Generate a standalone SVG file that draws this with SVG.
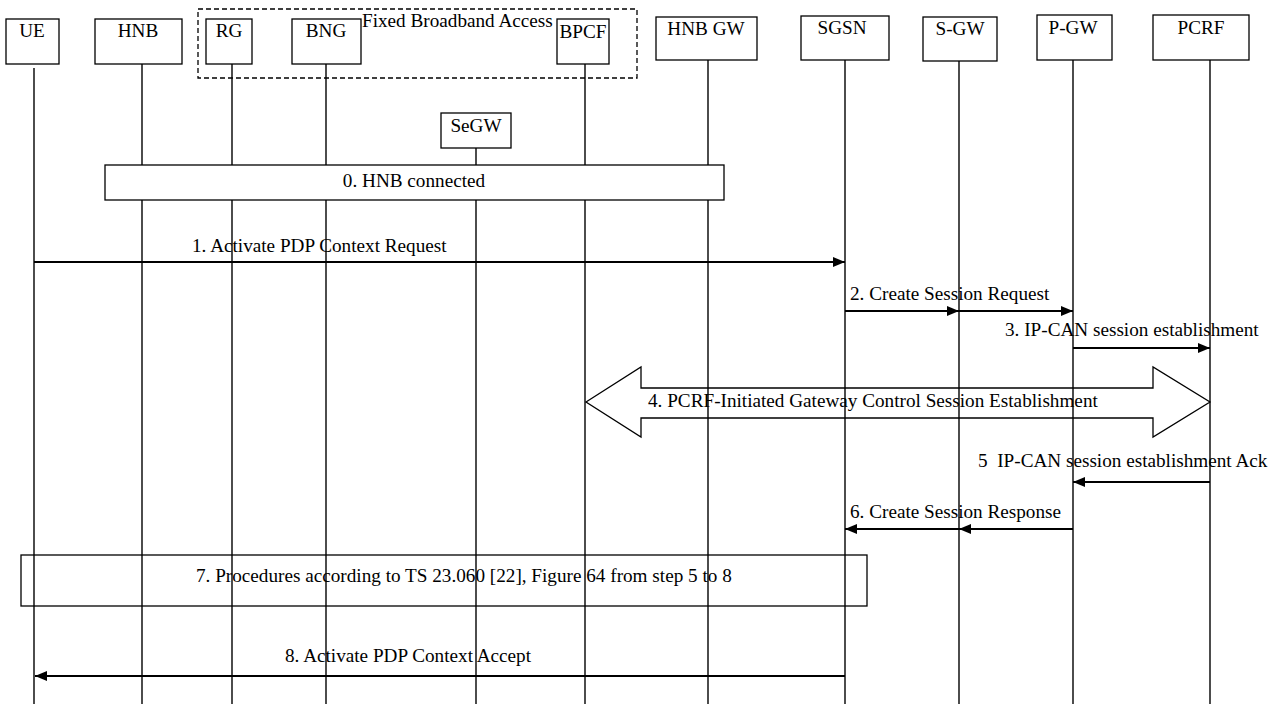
<svg xmlns="http://www.w3.org/2000/svg" width="1278" height="704" viewBox="0 0 1278 704">
<style>
text{font-family:"Liberation Serif","Times New Roman",serif;font-size:19.2px;fill:#000}
.c{text-anchor:middle}
.box{fill:#fff;stroke:#000;stroke-width:1.3}
.frame{fill:none;stroke:#000;stroke-width:1.3}
.life{stroke:#000;stroke-width:1.4;fill:none}
.msg{stroke:#000;stroke-width:2;fill:none;marker-end:url(#ah)}
</style>
<defs>
<marker id="ah" viewBox="0 0 12 10" refX="12" refY="5" markerWidth="12" markerHeight="10" markerUnits="userSpaceOnUse" orient="auto">
<path d="M0,0 L12,5 L0,10 z" fill="#000"/>
</marker>
</defs>
<rect width="1278" height="704" fill="#fff"/>
<g id="fixed-broadband-access">
<rect class="frame" x="198" y="9" width="439" height="69" stroke-dasharray="5,3"/>
<text x="362" y="27">Fixed Broadband Access</text>
</g>
<g id="lifelines">
<line class="life" x1="34" y1="68" x2="34" y2="704"/>
<line class="life" x1="142" y1="64" x2="142" y2="704"/>
<line class="life" x1="232" y1="64" x2="232" y2="704"/>
<line class="life" x1="326" y1="64" x2="326" y2="704"/>
<line class="life" x1="476" y1="148" x2="476" y2="704"/>
<line class="life" x1="585" y1="64" x2="585" y2="704"/>
<line class="life" x1="708" y1="60" x2="708" y2="704"/>
<line class="life" x1="845" y1="60" x2="845" y2="704"/>
<line class="life" x1="959" y1="61" x2="959" y2="704"/>
<line class="life" x1="1073" y1="60" x2="1073" y2="704"/>
<line class="life" x1="1210" y1="60" x2="1210" y2="704"/>
</g>
<g id="UE"><rect class="box" x="6" y="19" width="53" height="45"/><text class="c" x="32" y="37">UE</text></g>
<g id="HNB"><rect class="box" x="95" y="19" width="87" height="45"/><text class="c" x="138" y="37">HNB</text></g>
<g id="RG"><rect class="box" x="206" y="19" width="46" height="45"/><text class="c" x="229" y="37">RG</text></g>
<g id="BNG"><rect class="box" x="292" y="19" width="69" height="45"/><text class="c" x="326" y="37">BNG</text></g>
<g id="BPCF"><rect class="box" x="557" y="19" width="52" height="45"/><text class="c" x="583" y="38">BPCF</text></g>
<g id="HNB-GW"><rect class="box" x="656" y="17" width="101" height="43"/><text class="c" x="706" y="35">HNB GW</text></g>
<g id="SGSN"><rect class="box" x="801" y="16" width="88" height="44"/><text class="c" x="842" y="34">SGSN</text></g>
<g id="S-GW"><rect class="box" x="923" y="17" width="74" height="44"/><text class="c" x="960" y="35">S-GW</text></g>
<g id="P-GW"><rect class="box" x="1037" y="15" width="75" height="45"/><text class="c" x="1073" y="34">P-GW</text></g>
<g id="PCRF"><rect class="box" x="1153" y="15" width="96" height="45"/><text class="c" x="1201" y="34">PCRF</text></g>
<g id="SeGW"><rect class="box" x="441" y="113" width="70" height="35"/><text class="c" x="476" y="132">SeGW</text></g>
<g id="step0"><rect class="box" x="105" y="165" width="619" height="35"/><text class="c" x="414" y="187">0. HNB connected</text></g>
<g id="connectors">
<line class="msg" x1="34" y1="262" x2="845" y2="262"/>
<line class="msg" x1="845" y1="311" x2="959" y2="311"/>
<line class="msg" x1="959" y1="311" x2="1073" y2="311"/>
<line class="msg" x1="1073" y1="348" x2="1210" y2="348"/>
<path class="frame" d="M586,402 L641,367 L641,388 L1153,388 L1153,367 L1210,402 L1153,437 L1153,418 L641,418 L641,437 Z"/>
<line class="msg" x1="1210" y1="482" x2="1073" y2="482"/>
<line class="msg" x1="1073" y1="529" x2="959" y2="529"/>
<line class="msg" x1="959" y1="529" x2="845" y2="529"/>
<line class="msg" x1="845" y1="676" x2="35" y2="676"/>
</g>
<g id="step7"><rect class="frame" x="21" y="555" width="846" height="51"/><text x="196" y="582">7. Procedures according to TS 23.060 [22], Figure 64 from step 5 to 8</text></g>
<g id="labels">
<text x="192" y="252">1. Activate PDP Context Request</text>
<text x="850" y="300">2. Create Session Request</text>
<text x="1005" y="336">3. IP-CAN session establishment</text>
<text x="648" y="407">4. PCRF-Initiated Gateway Control Session Establishment</text>
<text x="978" y="467" xml:space="preserve">5  IP-CAN session establishment Ack</text>
<text x="850" y="518">6. Create Session Response</text>
<text x="285" y="662">8. Activate PDP Context Accept</text>
</g>
</svg>
